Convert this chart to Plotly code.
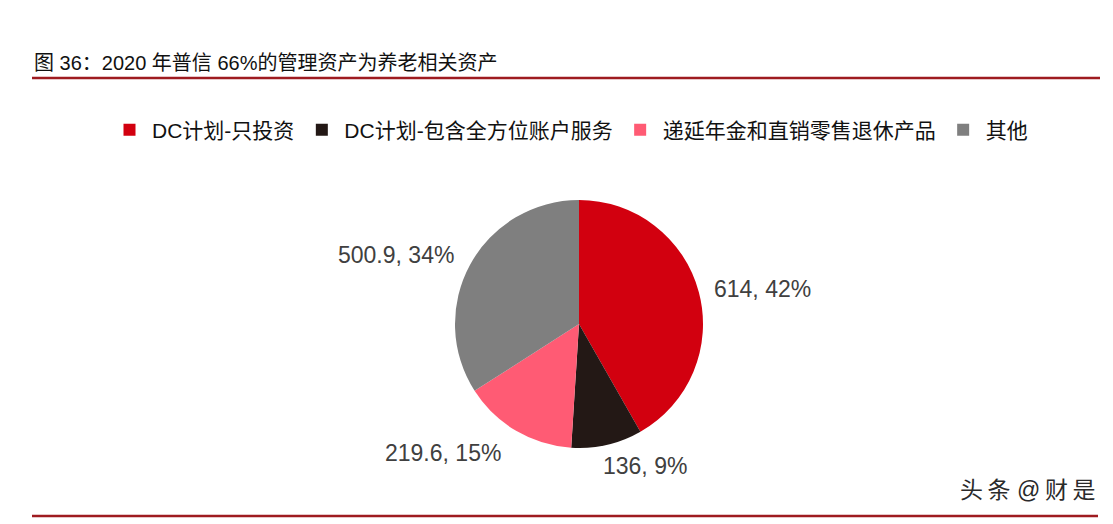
import math
import plotly.graph_objects as go

categories = ["DC计划-只投资", "DC计划-包含全方位账户服务", "递延年金和直销零售退休产品", "其他"]
values = [614, 136, 219.6, 500.9]
colors = ["#D2000F", "#231815", "#FF5B74", "#7F7F7F"]
title_text = "图 36：2020 年普信 66%的管理资产为养老相关资产"
watermark = "头\u2009条 @\u2009财\u2009是"

W, H = 1113, 524
CX, CY, R = 579, 324, 124
# label placement (angle nudge in degrees, radial distance in px)
label_nudge = [4, -12, 16, -8]
label_dist = [187, 157, 187, 196]

FONT = "Liberation Sans, Arial, Noto Sans CJK SC, sans-serif"

fig = go.Figure()
fig.add_trace(go.Pie(
    labels=categories,
    values=values,
    sort=False,
    direction="clockwise",
    rotation=0,
    marker=dict(colors=colors, line=dict(width=0)),
    textinfo="none",
    hoverinfo="label+value+percent",
    domain=dict(x=[(CX - R) / W, (CX + R) / W], y=[1 - (CY + R) / H, 1 - (CY - R) / H]),
))

total = sum(values)
annotations = []
cum = 0.0
for v, nud, dist in zip(values, label_nudge, label_dist):
    mid = (cum + v / 2) / total * 360 + nud
    cum += v
    a = math.radians(mid)
    px = CX + dist * math.sin(a)
    py = CY - dist * math.cos(a)
    txt = f"{v:g}, {round(v / total * 100):d}%"
    annotations.append(dict(
        x=px / W, y=1 - py / H, xref="paper", yref="paper",
        text=txt, showarrow=False, xanchor="center", yanchor="middle",
        font=dict(size=23, color="#404040", family=FONT),
    ))

annotations.append(dict(
    x=32 / W, y=1 - 63 / H, xref="paper", yref="paper", text=title_text,
    showarrow=False, xanchor="left", yanchor="middle",
    font=dict(size=20, color="#111111", family=FONT),
))
annotations.append(dict(
    x=1098 / W, y=1 - 490 / H, xref="paper", yref="paper", text=watermark,
    showarrow=False, xanchor="right", yanchor="middle",
    font=dict(size=23, color="#2a2a2a", family=FONT),
))

shapes = [
    dict(type="line", xref="paper", yref="paper", x0=32 / W, x1=1100 / W,
         y0=1 - 78 / H, y1=1 - 78 / H, line=dict(color="#9E1B20", width=2.5)),
    dict(type="line", xref="paper", yref="paper", x0=32 / W, x1=1098 / W,
         y0=1 - 516 / H, y1=1 - 516 / H, line=dict(color="#9E1B20", width=2.5)),
]

fig.update_layout(
    width=W, height=H,
    margin=dict(l=0, r=0, t=0, b=0),
    paper_bgcolor="white",
    plot_bgcolor="white",
    showlegend=True,
    legend=dict(
        orientation="h",
        x=107 / W, xanchor="left",
        y=1 - 130 / H, yanchor="middle",
        font=dict(size=21, color="#111111", family=FONT),
        itemwidth=35,
        bgcolor="rgba(0,0,0,0)",
        traceorder="normal",
    ),
    annotations=annotations,
    shapes=shapes,
)

fig.write_html(
    "out.html",
    config={"displayModeBar": False},
    post_script="document.body.style.margin='0';document.body.style.padding='0';",
)
